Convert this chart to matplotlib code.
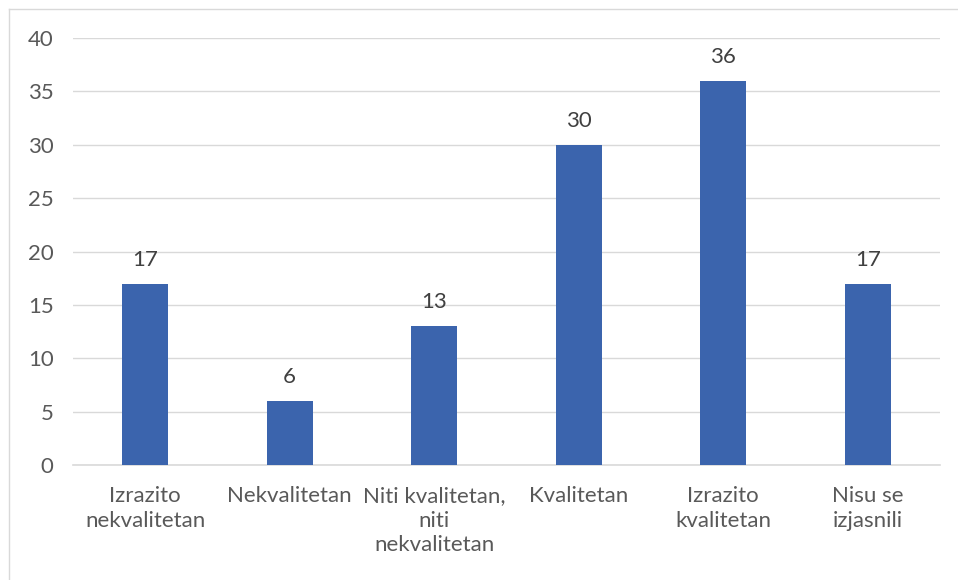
import matplotlib
matplotlib.use("Agg")
import matplotlib.pyplot as plt
from matplotlib.lines import Line2D

categories = ["Izrazito\nnekvalitetan", "Nekvalitetan", "Niti kvalitetan,\nniti\nnekvalitetan",
              "Kvalitetan", "Izrazito\nkvalitetan", "Nisu se\nizjasnili"]
values = [17, 6, 13, 30, 36, 17]
yticks = [0, 5, 10, 15, 20, 25, 30, 35, 40]

plt.rcParams['font.family'] = ['Lato', 'DejaVu Sans']
txt = '#595959'
fs = 16

fig = plt.figure(figsize=(9.58, 5.8), dpi=100)
ax = fig.add_axes([73/958, 1-465/580, (940-73)/958, (465-38)/580])

x = list(range(len(categories)))
bars = ax.bar(x, values, width=0.32, color='#3B64AD', zorder=3)
for xi, v in zip(x, values):
    ax.annotate(str(v), (xi, v), xytext=(0, 10), textcoords='offset points',
                ha='center', va='bottom', fontsize=fs, color='#404040')

ax.set_xlim(-0.5, len(categories)-0.5)
ax.set_ylim(0, 40)
ax.set_yticks(yticks)
ax.set_xticks(x)
ax.set_xticklabels(categories, fontsize=fs, color=txt, linespacing=1.3)
ax.tick_params(axis='y', labelsize=fs, labelcolor=txt, length=0, pad=14)
ax.tick_params(axis='x', length=0, pad=15)
ax.grid(axis='y', color='#D9D9D9', linewidth=1, zorder=0)
for s in ['left', 'right', 'top']:
    ax.spines[s].set_visible(False)
ax.spines['bottom'].set_color('#D9D9D9')
ax.spines['bottom'].set_linewidth(1.2)

# outer chart border (left and top visible)
fig.add_artist(Line2D([9/958, 9/958], [0, 1-9/580], transform=fig.transFigure, color='#D9D9D9', lw=1))
fig.add_artist(Line2D([9/958, 1], [1-9/580, 1-9/580], transform=fig.transFigure, color='#D9D9D9', lw=1))

fig.savefig('out.png', dpi=100)
